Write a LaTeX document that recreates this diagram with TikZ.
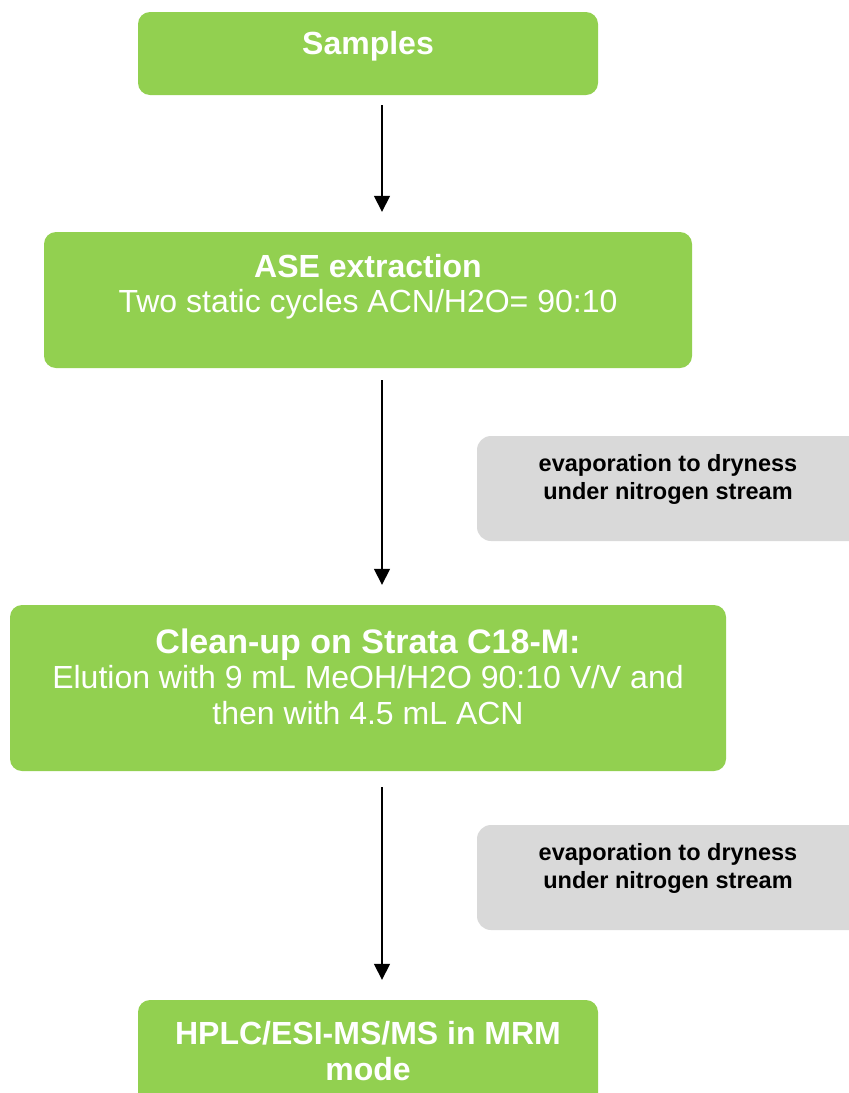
\documentclass[tikz,border=0pt]{standalone}
\usepackage{fontspec}
\setmainfont{Liberation Sans}
\usetikzlibrary{arrows.meta}
\definecolor{boxgreen}{HTML}{92D050}
\definecolor{boxgray}{HTML}{D9D9D9}
\begin{document}
\begin{tikzpicture}[x=1pt,y=-1pt,
  greenbox/.style={fill=boxgreen,draw=none,rounded corners=12pt,inner sep=0pt},
  graybox/.style={fill=boxgray,draw=none,rounded corners=14pt,inner sep=0pt},
  maintext/.style={text=white,align=center,inner sep=0pt,anchor=north,font=\fontsize{32}{35.5}\selectfont},
  notetext/.style={text=black,align=center,inner sep=0pt,anchor=north,font=\fontsize{23.5}{28}\selectfont\bfseries},
  flow/.style={line width=1.6pt,-{Triangle[width=16pt,length=16pt]}}
]
\useasboundingbox (0,0) rectangle (849,1093);
\clip (0,0) rectangle (849,1093);
% boxes
\path[greenbox] (138,12) rectangle (598,95);
\node[inner sep=0pt,minimum width=460pt,minimum height=83pt] (samples) at (368,53.5) {};
\path[greenbox] (44,232) rectangle (692,368);
\node[inner sep=0pt,minimum width=648pt,minimum height=136pt] (ase) at (368,300) {};
\path[graybox] (477,436) rectangle (870,541);
\node[inner sep=0pt,minimum width=393pt,minimum height=105pt] (evap1) at (673.5,488.5) {};
\path[greenbox] (10,605) rectangle (726,771);
\node[inner sep=0pt,minimum width=716pt,minimum height=166pt] (clean) at (368,688) {};
\path[graybox] (477,825) rectangle (870,930);
\node[inner sep=0pt,minimum width=393pt,minimum height=105pt] (evap2) at (673.5,877.5) {};
\path[greenbox] (138,1000) rectangle (598,1110);
\node[inner sep=0pt,minimum width=460pt,minimum height=110pt] (hplc) at (368,1055) {};
% texts
\node[maintext] (tsamples) at (368,31) {\bfseries Samples};
\node[maintext] (tase) at (368,254) {\bfseries ASE extraction\\Two static cycles ACN/H2O= 90:10};
\node[notetext] (tevap1) at (668,454) {evaporation to dryness\\under nitrogen stream};
\node[maintext] (tclean) at (368,628.5) {{\fontsize{34}{35.5}\selectfont\bfseries Clean-up on Strata C18-M:}\\Elution with 9 mL MeOH/H2O 90:10 V/V and\\then with 4.5 mL ACN};
\node[notetext] (tevap2) at (668,843) {evaporation to dryness\\under nitrogen stream};
\node[maintext] (thplc) at (368,1021.5) {\bfseries HPLC/ESI-MS/MS in MRM\\\bfseries mode};
% connectors
\draw[flow,shorten <=10pt,shorten >=20pt] ([xshift=14pt]samples.south) -- ([xshift=14pt]ase.north);
\draw[flow,shorten <=12pt,shorten >=20pt] ([xshift=14pt]ase.south) -- ([xshift=14pt]clean.north);
\draw[flow,shorten <=16pt,shorten >=20pt] ([xshift=14pt]clean.south) -- ([xshift=14pt]hplc.north);
\end{tikzpicture}
\end{document}
